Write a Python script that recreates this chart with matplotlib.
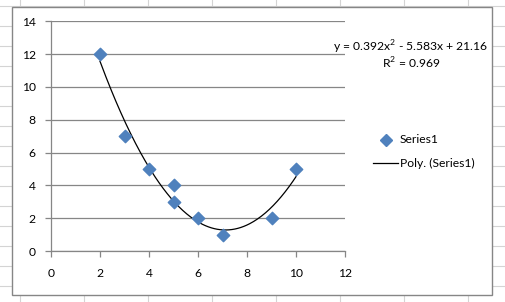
import numpy as np
import matplotlib
matplotlib.use("Agg")
import matplotlib.pyplot as plt
from matplotlib.lines import Line2D
from matplotlib.patches import Rectangle

x_vals = [2, 3, 4, 5, 5, 6, 7, 9, 10]
y_vals = [12, 7, 5, 4, 3, 2, 1, 2, 5]
coef = [0.392, -5.583, 21.16]
x_ticks = [0, 2, 4, 6, 8, 10, 12]
y_ticks = [0, 2, 4, 6, 8, 10, 12, 14]
series_name = "Series1"
trend_name = "Poly. (Series1)"
eq_text = "y = 0.392x$^2$ - 5.583x + 21.16"
r2_text = "R$^2$ = 0.969"

W, H = 505, 302
FS = 8.7
plt.rcParams['font.family'] = ['Lato', 'DejaVu Sans']
plt.rcParams['mathtext.fontset'] = 'custom'
plt.rcParams['mathtext.rm'] = 'Lato'
fig = plt.figure(figsize=(W / 100, H / 100), dpi=100)
fig.patch.set_facecolor('white')

def fx(px):
    return px / W

def fy(py):
    return 1 - py / H

# spreadsheet cell lines
cell = '#d4d4d4'
for px in range(20, W, 64):
    fig.add_artist(Line2D([fx(px), fx(px)], [0, 1], color=cell, lw=0.8, zorder=-3))
for py in range(6, H, 20):
    fig.add_artist(Line2D([0, 1], [fy(py), fy(py)], color=cell, lw=0.8, zorder=-3))

# chart area
fig.add_artist(Rectangle((fx(11.5), fy(295)), fx(491.5) - fx(11.5), fy(7) - fy(295),
                         facecolor='white', edgecolor='#868686', lw=1.0, zorder=-2))

ax = fig.add_axes([fx(51), fy(251), fx(345) - fx(51), fy(21.3) - fy(251)])
ax.set_zorder(1)
ax.set_facecolor('none')
ax.set_xlim(0, 12)
ax.set_ylim(0, 14)
ax.set_xticks(x_ticks)
ax.set_yticks(y_ticks)
ax.yaxis.grid(True, color='#868686', lw=0.9)
ax.set_axisbelow(True)
for s in ['top', 'right']:
    ax.spines[s].set_visible(False)
for s in ['left', 'bottom']:
    ax.spines[s].set_color('#868686')
    ax.spines[s].set_linewidth(0.9)
ax.tick_params(axis='both', direction='out', length=4, width=0.9, color='#868686',
               labelsize=FS, labelcolor='black')
ax.tick_params(axis='x', pad=8)
ax.tick_params(axis='y', pad=7)

xs = np.linspace(min(x_vals), max(x_vals), 200)
ys = np.polyval(coef, xs)
ax.plot(xs, ys, color='black', lw=0.9, zorder=3)
ax.scatter(x_vals, y_vals, marker='D', s=40, color='#4F81BD', edgecolors='#4F81BD', zorder=4, clip_on=False)

fig.text(fx(411), fy(47), eq_text, ha='center', va='center', fontsize=FS)
fig.text(fx(411), fy(63), r2_text, ha='center', va='center', fontsize=FS)

# legend
fig.add_artist(Line2D([fx(386)], [fy(140)], marker='D', markersize=6, color='#4F81BD', lw=0))
fig.text(fx(400), fy(140), series_name, ha='left', va='center', fontsize=FS)
fig.add_artist(Line2D([fx(373), fx(398)], [fy(163), fy(163)], color='black', lw=0.9))
fig.text(fx(400), fy(163), trend_name, ha='left', va='center', fontsize=FS)

fig.savefig('out.png', dpi=100, facecolor='white')
